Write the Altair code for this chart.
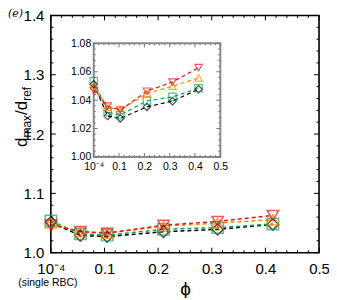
import altair as alt
import pandas as pd

# ---- data ----
phi = [0.0001, 0.055, 0.105, 0.21, 0.311, 0.414]
series = ["S1", "S2", "S3", "S4"]
d_black = [1.0512, 1.0288, 1.0272, 1.0353, 1.0393, 1.0477]
d_green = [1.0535, 1.0318, 1.0295, 1.0395, 1.0423, 1.0484]
d_orange = [1.0500, 1.0350, 1.0330, 1.0447, 1.0498, 1.0556]
d_red = [1.0470, 1.0358, 1.0330, 1.0463, 1.0528, 1.0629]
colors = ["#000000", "#13a35a", "#ff8c00", "#e8141c"]
shapes = ["diamond", "square", "triangle-up", "triangle-down"]

main_x_labels = [0, 0.1, 0.2, 0.3, 0.4, 0.5]
main_y_labels = [1.0, 1.1, 1.2, 1.3, 1.4]
main_x_ticks = [round(i * 0.02, 2) for i in range(26)]
main_y_ticks = [round(1.0 + i * 0.02, 2) for i in range(21)]
inset_x_labels = [0, 0.1, 0.2, 0.3, 0.4, 0.5]
inset_y_labels = [1.00, 1.02, 1.04, 1.06, 1.08]
inset_x_ticks = [round(i * 0.02, 2) for i in range(26)]
inset_y_ticks = [round(1.0 + i * 0.004, 3) for i in range(21)]

rows = []
for s, vals in zip(series, [d_black, d_green, d_orange, d_red]):
    for xv, yv in zip(phi, vals):
        rows.append({"phi": xv, "d": yv, "series": s})
df = pd.DataFrame(rows)

W, H = 269, 238
FONT = "Liberation Sans"
# inset plot-area edges (pixels inside the main plot area)
IL, IR, IT, IB = 43, 170, 28, 142

xs_main = alt.Scale(domain=[0, 0.5], nice=False, zero=False, range=[0, W])
ys_main = alt.Scale(domain=[1.0, 1.4], nice=False, zero=False, range=[H, 0])
xs_in = alt.Scale(domain=[0, 0.5], nice=False, zero=False, range=[IL, IR])
ys_in = alt.Scale(domain=[1.0, 1.08], nice=False, zero=False, range=[IB, IT])

color_enc = alt.Color("series:N", scale=alt.Scale(domain=series, range=colors), legend=None)
shape_enc = alt.Shape("series:N", scale=alt.Scale(domain=series, range=shapes), legend=None)


def minor_of(ticks, majors):
    return [t for t in ticks if all(abs(t - m) > 1e-9 for m in majors)]


def xticks(values, xs, y0, y1, color):
    return alt.Chart(pd.DataFrame({"v": values})).mark_rule(color=color, strokeWidth=1).encode(
        x=alt.X("v:Q", scale=xs, axis=None), y=alt.value(y0), y2=alt.value(y1)
    )


def yticks(values, ys, x0, x1, color):
    return alt.Chart(pd.DataFrame({"v": values})).mark_rule(color=color, strokeWidth=1).encode(
        y=alt.Y("v:Q", scale=ys, axis=None), x=alt.value(x0), x2=alt.value(x1)
    )


def tick_layers(xs, ys, xmaj, xmin, ymaj, ymin, L, R, T, B, big, small, color):
    return [
        xticks(xmaj, xs, B, B - big, color), xticks(xmaj, xs, T, T + big, color),
        xticks(xmin, xs, B, B - small, color), xticks(xmin, xs, T, T + small, color),
        yticks(ymaj, ys, L, L + big, color), yticks(ymaj, ys, R, R - big, color),
        yticks(ymin, ys, L, L + small, color), yticks(ymin, ys, R, R - small, color),
    ]


def data_layers(xs, ys, x_axis, y_axis, msize, lw):
    base = alt.Chart(df)
    lines = base.mark_line(strokeDash=[4, 3], strokeWidth=lw).encode(
        x=alt.X("phi:Q", scale=xs, axis=x_axis),
        y=alt.Y("d:Q", scale=ys, axis=y_axis),
        color=color_enc,
        order=alt.Order("phi:Q"),
    )
    points = base.mark_point(filled=False, size=msize, strokeWidth=lw).encode(
        x=alt.X("phi:Q", scale=xs, axis=None),
        y=alt.Y("d:Q", scale=ys, axis=None),
        color=color_enc,
        shape=shape_enc,
    )
    return [lines, points]


label_expr = "datum.value < 0.001 ? '10\u207b\u2074' : format(datum.value, '.1f')"

main_x_axis = alt.Axis(
    orient="bottom", values=main_x_labels, labelExpr=label_expr, ticks=False,
    domain=False, grid=False, title="\u03d5", titleFontSize=19, titleFontWeight="normal",
    titlePadding=3, labelFontSize=15, labelPadding=9, labelColor="black", titleColor="black",
    labelFlush=False,
)
main_y_axis = alt.Axis(
    orient="left", values=main_y_labels, format=".1f", ticks=False, domain=False,
    grid=False, title=None, labelFontSize=15, labelPadding=7, labelColor="black",
)

single_df = pd.DataFrame({"phi": [0.0], "t": ["(single RBC)"]})
single_text = alt.Chart(single_df).mark_text(
    fontSize=10.5, font=FONT, color="black", dx=-3, baseline="alphabetic"
).encode(
    x=alt.X("phi:Q", scale=xs_main, axis=None),
    y=alt.value(H + 33),
    text="t:N",
)

inset_x_axis = alt.Axis(
    orient="bottom", offset=IB - H, values=inset_x_labels, labelExpr=label_expr,
    ticks=False, domain=False, grid=False, title=None, labelFontSize=10.5,
    labelPadding=5, labelColor="black", labelFlush=False,
)
inset_y_axis = alt.Axis(
    orient="left", offset=-IL, values=inset_y_labels, format=".2f", ticks=False,
    domain=False, grid=False, title=None, labelFontSize=10.5, labelPadding=3,
    labelColor="black",
)

box_df = pd.DataFrame({"x0": [inset_x_labels[0]], "x1": [inset_x_labels[-1]],
                       "y0": [inset_y_labels[0]], "y1": [inset_y_labels[-1]]})
inset_box = alt.Chart(box_df).mark_rect(fill="white", stroke="#8a8a8a", strokeWidth=2).encode(
    x=alt.X("x0:Q", scale=xs_in, axis=None),
    x2="x1:Q",
    y=alt.Y("y0:Q", scale=ys_in, axis=None),
    y2="y1:Q",
)

main_ticks = tick_layers(
    xs_main, ys_main, main_x_labels, minor_of(main_x_ticks, main_x_labels),
    main_y_labels, minor_of(main_y_ticks, main_y_labels),
    0, W, 0, H, 5, 2.5, "black",
)
inset_ticks = tick_layers(
    xs_in, ys_in, inset_x_labels, minor_of(inset_x_ticks, inset_x_labels),
    inset_y_labels, minor_of(inset_y_ticks, inset_y_labels),
    IL, IR, IT, IB, 4, 2, "#777777",
)

# y-axis title pieces: d_max / d_ref (rotated)
title_df = pd.DataFrame({"k": [0]})


def ttext(txt, x, y, size):
    return alt.Chart(title_df).mark_text(
        text=txt, angle=270, align="left", baseline="alphabetic", font=FONT,
        fontSize=size, color="black",
    ).encode(x=alt.value(x), y=alt.value(y))


ytitle = [
    ttext("d", -24, 132, 17),
    ttext("max", -20, 122.5, 12),
    ttext("/d", -24, 99.8, 17),
    ttext("ref", -20, 85.6, 12),
]

panel_label = alt.Chart(title_df).mark_text(
    text="(e)", fontStyle="italic", font="DejaVu Serif", fontSize=11, align="left",
    baseline="alphabetic", color="black",
).encode(x=alt.value(-43), y=alt.value(2))

all_layers = (
    main_ticks
    + data_layers(xs_main, ys_main, main_x_axis, main_y_axis, 130, 1.5)
    + [single_text, inset_box]
    + inset_ticks
    + data_layers(xs_in, ys_in, inset_x_axis, inset_y_axis, 55, 1.2)
    + ytitle
    + [panel_label]
)

chart = alt.layer(*all_layers).resolve_scale(
    x="independent", y="independent"
).properties(
    width=W, height=H, autosize="none",
    padding={"left": 43, "top": 7, "right": 10, "bottom": 45},
).configure_view(stroke="black", strokeWidth=1.6).configure_axis(
    labelFont=FONT, titleFont=FONT
)

chart.save("out.html", embed_options={"renderer": "svg", "actions": False})
